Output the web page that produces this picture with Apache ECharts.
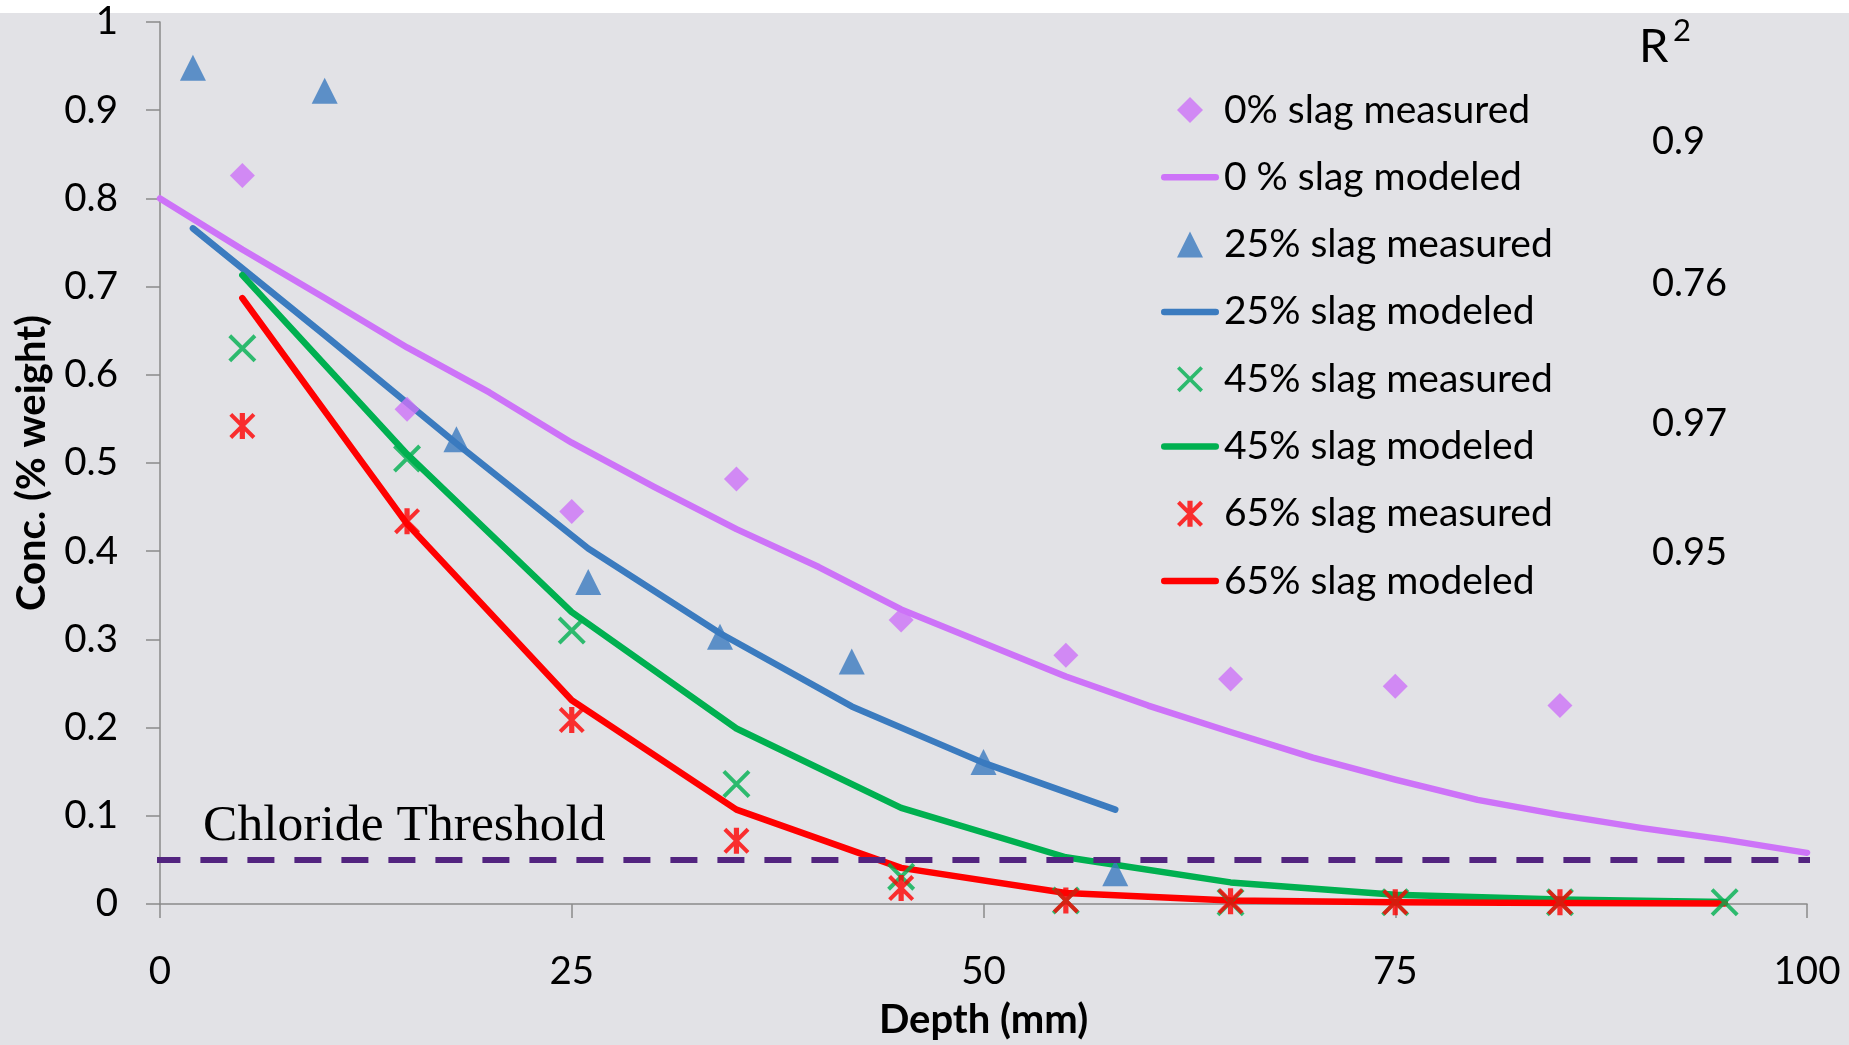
<!DOCTYPE html>
<html>
<head>
<meta charset="utf-8">
<script src="https://cdn.jsdelivr.net/npm/echarts@6/dist/echarts.min.js"></script>
<style>
html,body{margin:0;padding:0;background:#ffffff;}
#chart{width:1849px;height:1045px;background:linear-gradient(to bottom,#ffffff 0px,#ffffff 13px,#e2e2e6 13px);}
</style>
</head>
<body>
<div id="chart"></div>
<script>
// ---- data ----
const depthMeasured = [5, 15, 25, 35, 45, 55, 65, 75, 85];
const slag0Measured = [0.826, 0.561, 0.445, 0.482, 0.322, 0.282, 0.255, 0.247, 0.225];
const depthModel0 = [0, 5, 10, 15, 20, 25, 30, 35, 40, 45, 50, 55, 60, 65, 70, 75, 80, 85, 90, 95, 100];
const slag0Model = [0.800, 0.742, 0.687, 0.631, 0.580, 0.523, 0.473, 0.425, 0.382, 0.334, 0.296, 0.258, 0.225, 0.195, 0.166, 0.141, 0.118, 0.101, 0.086, 0.073, 0.058];
const depth25 = [2, 10, 18, 26, 34, 42, 50, 58];
const slag25Measured = [0.948, 0.922, 0.527, 0.365, 0.303, 0.275, 0.161, 0.035];
const slag25Model = [0.766, 0.645, 0.522, 0.403, 0.307, 0.224, 0.160, 0.107];
const depth45 = [5, 15, 25, 35, 45, 55, 65, 75, 85, 95];
const slag45Measured = [0.630, 0.505, 0.310, 0.136, 0.031, 0.004, 0.002, 0.002, 0.002, 0.002];
const slag45Model = [0.713, 0.510, 0.331, 0.199, 0.109, 0.053, 0.0245, 0.0106, 0.005, 0.0023];
const depth65Measured = [5, 15, 25, 35, 45, 55, 65, 75, 85];
const slag65Measured = [0.542, 0.434, 0.2085, 0.0716, 0.018, 0.004, 0.003, 0.002, 0.002];
const depth65Model = [5, 15, 25, 35, 45, 55, 65, 75, 85, 95];
const slag65Model = [0.687, 0.431, 0.231, 0.107, 0.041, 0.0124, 0.004, 0.002, 0.001, 0.0005];
const thresholdDepth = [-0.4, 101];
const thresholdConc = [0.05, 0.05];
const seriesNames = ['0% slag measured', '0 % slag modeled', '25% slag measured', '25% slag modeled',
                     '45% slag measured', '45% slag modeled', '65% slag measured', '65% slag modeled'];
const r2Label = 'R';
const r2Sup = '2';
const r2Values = ['0.9', '0.76', '0.97', '0.95'];
const thresholdLabel = 'Chloride Threshold';
const xAxisTitle = 'Depth (mm)';
const yAxisTitle = 'Conc. (% weight)';

// ---- styling ----
const C0 = '#cd73f8', C25 = '#3b7bbf', C45 = '#00b050', C65 = '#ff0000', CTH = '#52247f';
const FONT = 'Lato';
const zip = (xs, ys) => xs.map((x, i) => [x, ys[i]]);
const DIAMOND_PATH = 'path://M50,0 L100,50 L50,100 L0,50 Z';
const TRIANGLE_PATH = 'path://M50,0 L100,100 L0,100 Z';
const X_PATH = 'path://M0,10 L10,0 L100,90 L90,100 Z M90,0 L100,10 L10,100 L0,90 Z';
const STAR_PATH = 'path://M0,11 L11,0 L100,89 L89,100 Z M89,0 L100,11 L11,100 L0,89 Z M40,0 L60,0 L60,100 L40,100 Z';
const BAR_PATH = 'path://M3.25,0 L54.75,0 A3.25,3.25 0 0 1 54.75,6.5 L3.25,6.5 A3.25,3.25 0 0 1 3.25,0 Z';
const legendIcons = [DIAMOND_PATH, BAR_PATH, TRIANGLE_PATH, BAR_PATH, X_PATH, BAR_PATH, STAR_PATH, BAR_PATH];

function measured(name, xs, ys, symbol, size, color) {
  return { name, type: 'scatter', data: zip(xs, ys), symbol, symbolSize: size,
           itemStyle: { color }, z: 3 };
}
function modeled(name, xs, ys, color) {
  return { name, type: 'line', data: zip(xs, ys), symbol: 'none', smooth: false,
           lineStyle: { color, width: 6.5, cap: 'round', join: 'round' }, itemStyle: { color }, z: 3 };
}

const chart = echarts.init(document.getElementById('chart'), null, { renderer: 'canvas' });
const axisLine = { show: true, lineStyle: { color: '#8a8a8a', width: 1.5 } };
const axisTick = { show: true, inside: false, length: 14, lineStyle: { color: '#8a8a8a', width: 1.5 } };

const r2Y = [142, 284, 424, 553];
const graphics = [
  { type: 'text', x: 203, y: 826, z: 10,
    style: { text: thresholdLabel, fontFamily: 'Liberation Serif', fontSize: 51.6, fill: '#000',
             align: 'left', verticalAlign: 'middle' } },
  { type: 'text', x: 1639, y: 47, z: 10,
    style: { text: r2Label, fontFamily: FONT, fontSize: 47, fill: '#000', align: 'left', verticalAlign: 'middle' } },
  { type: 'text', x: 1673, y: 31, z: 10,
    style: { text: r2Sup, fontFamily: FONT, fontSize: 31, fill: '#000', align: 'left', verticalAlign: 'middle' } }
].concat(r2Values.map((v, i) => ({
  type: 'text', x: 1652, y: r2Y[i], z: 10,
  style: { text: v, fontFamily: FONT, fontSize: 38, fill: '#000', align: 'left', verticalAlign: 'middle' }
})));

chart.setOption({
  animation: false,
  backgroundColor: 'transparent',
  textStyle: { fontFamily: FONT },
  grid: { left: 160, right: 42, top: 22, bottom: 139 },
  xAxis: {
    type: 'value', min: 0, max: 100, interval: 25,
    name: xAxisTitle, nameLocation: 'middle', nameGap: 96,
    nameTextStyle: { fontFamily: FONT, fontWeight: 'bold', fontSize: 40, color: '#000', lineHeight: 40 },
    axisLine, axisTick, splitLine: { show: false },
    axisLabel: { fontFamily: FONT, fontSize: 38.5, color: '#000', margin: 49, lineHeight: 38 }
  },
  yAxis: {
    type: 'value', min: 0, max: 1, interval: 0.1,
    name: yAxisTitle, nameLocation: 'middle', nameGap: 108, nameRotate: 90,
    nameTextStyle: { fontFamily: FONT, fontWeight: 'bold', fontSize: 40, color: '#000', lineHeight: 40 },
    axisLine, axisTick, splitLine: { show: false },
    axisLabel: { fontFamily: FONT, fontSize: 38.5, color: '#000', margin: 42 }
  },
  legend: {
    orient: 'vertical', left: 1161, top: 90, padding: 0,
    itemWidth: 58, itemHeight: 26, itemGap: 27.3,
    symbolKeepAspect: true,
    selectedMode: false,
    data: seriesNames.map((n, i) => ({ name: n, icon: legendIcons[i] })),
    textStyle: { fontFamily: FONT, fontSize: 39, color: '#000', lineHeight: 40 }
  },
  series: [
    measured(seriesNames[0], depthMeasured, slag0Measured, DIAMOND_PATH, 25, C0),
    modeled(seriesNames[1], depthModel0, slag0Model, C0),
    measured(seriesNames[2], depth25, slag25Measured, TRIANGLE_PATH, 26, C25),
    modeled(seriesNames[3], depth25, slag25Model, C25),
    measured(seriesNames[4], depth45, slag45Measured, X_PATH, 28, C45),
    modeled(seriesNames[5], depth45, slag45Model, C45),
    measured(seriesNames[6], depth65Measured, slag65Measured, STAR_PATH, 26, C65),
    modeled(seriesNames[7], depth65Model, slag65Model, C65),
    { name: thresholdLabel, type: 'line', data: zip(thresholdDepth, thresholdConc), symbol: 'none',
      clip: false, z: 5, lineStyle: { color: CTH, width: 6, type: [27, 20] } }
  ],
  graphic: graphics
});
</script>
</body>
</html>
